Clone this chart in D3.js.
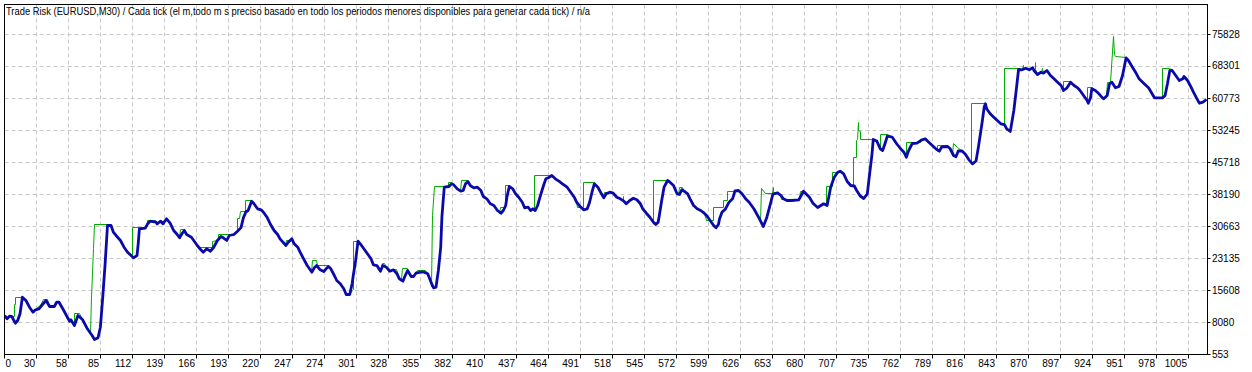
<!DOCTYPE html>
<html>
<head>
<meta charset="utf-8">
<script src="https://cdn.jsdelivr.net/npm/d3@7"></script>
<style>
  body { margin: 0; background: #fff; }
  svg { display: block; }
  text { font-family: "Liberation Sans", Arial, sans-serif; font-size: 10px; fill: #000; }
</style>
</head>
<body>
<div id="chart"></div>
<script>
const title = 'Trade Risk (EURUSD,M30) / Cada tick (el m,todo m s preciso basado en todo los periodos menores disponibles para generar cada tick)  / n/a';

const xLabels = [0, 30, 58, 85, 112, 139, 166, 193, 220, 247, 274, 301, 328, 355, 382, 410, 437, 464, 491, 518,
  545, 572, 599, 626, 653, 680, 707, 735, 762, 789, 816, 843, 870, 897, 924, 951, 978, 1005];
const yTicks = [553, 8080, 15608, 23135, 30663, 38190, 45718, 53245, 60773, 68301, 75828];

// blue line [trade index, value]
const balance = [
  [3, 9727], [5, 8950], [7, 9562], [9, 9491], [12, 7915], [14, 8550], [16, 10126], [18, 14031], [21, 13255],
  [24, 11679], [27, 10503], [29, 11067], [32, 11303], [35, 12314], [38, 13255], [41, 11844], [45, 11844],
  [47, 12855], [49, 12855], [53, 10903], [56, 9327], [58, 8386], [59, 8715], [62, 7374], [65, 9727], [69, 8715],
  [73, 6598], [77, 5022], [79, 4081], [82, 4481], [84, 6974], [86, 14031], [88, 21888], [90, 30897], [93, 30897],
  [95, 29321], [98, 28310], [101, 27369], [104, 25793], [107, 24617], [110, 23840], [112, 23299], [115, 23840],
  [116, 26593], [117, 30121], [122, 30262], [124, 31297], [126, 31909], [131, 31673], [132, 31297], [135, 31909],
  [137, 31297], [140, 32473], [143, 31438], [146, 29721], [149, 28780], [151, 28004], [153, 28945], [155, 29721],
  [157, 28780], [161, 28145], [163, 27369], [166, 26193], [169, 25181], [171, 24617], [174, 25416], [177, 24852],
  [180, 25793], [183, 27369], [186, 28310], [188, 28004], [191, 27369], [193, 28545], [197, 28780], [200, 29555],
  [203, 30400], [205, 32700], [207, 34026], [209, 34426], [212, 36613], [214, 36002], [217, 34826], [220, 34590],
  [222, 34026], [225, 32850], [228, 31132], [231, 29721], [234, 28780], [236, 27769], [241, 26193], [243, 26969],
  [246, 27769], [248, 26593], [251, 25793], [253, 24617], [256, 23064], [259, 21488], [263, 19912], [265, 20947],
  [267, 21488], [270, 20476], [273, 20077], [275, 20712], [277, 21253], [279, 20712], [282, 19136], [284, 17960],
  [287, 17183], [290, 16007], [292, 14666], [295, 14666], [297, 17183], [298, 19136], [300, 22664], [302, 27204],
  [305, 26193], [308, 25016], [310, 24240], [313, 23064], [315, 21653], [318, 21488], [321, 20147], [323, 21488],
  [326, 21088], [329, 20147], [332, 20476], [335, 19536], [337, 18359], [340, 17795], [342, 19136], [344, 20312],
  [347, 18901], [349, 18901], [351, 19677], [355, 19912], [358, 19912], [361, 19536], [363, 18124], [365, 16783],
  [366, 16242], [368, 16384], [370, 20312], [372, 25793], [373, 32850], [375, 39907], [379, 40071], [381, 40706],
  [383, 40471], [386, 39530], [389, 38965], [391, 39130], [393, 40706], [395, 41247], [397, 40306], [400, 39765],
  [403, 39907], [406, 39130], [408, 37719], [411, 37178], [414, 36002], [417, 35602], [420, 34426], [423, 33790],
  [425, 34426], [427, 35602], [428, 37554], [430, 40071], [433, 39530], [435, 38495], [438, 37554], [441, 36378],
  [443, 35061], [446, 35202], [448, 34426], [450, 34826], [452, 34426], [454, 35602], [456, 37554], [459, 40306],
  [461, 41882], [463, 42118], [466, 42659], [469, 41882], [472, 41318], [475, 40706], [479, 39907], [482, 38731],
  [485, 37554], [487, 36378], [490, 35367], [493, 34590], [496, 34826], [498, 36378], [500, 38731], [502, 40706],
  [505, 39907], [508, 38354], [510, 37413], [512, 38354], [515, 38731], [518, 38495], [521, 37554], [524, 37178],
  [527, 36613], [529, 36002], [532, 36778], [535, 37319], [538, 36943], [541, 36002], [543, 34826], [546, 33790],
  [549, 32850], [552, 31673], [554, 31132], [556, 31673], [557, 33250], [559, 36778], [561, 39907], [564, 41483],
  [566, 41083], [569, 40306], [572, 38354], [574, 38189], [576, 39295], [578, 38965], [581, 38354], [583, 37178],
  [586, 35602], [589, 34826], [592, 34426], [595, 33790], [597, 33250], [600, 32073], [603, 30897], [605, 30356],
  [607, 31132], [608, 32473], [610, 34000], [613, 34800], [616, 36378], [619, 37178], [621, 39013], [624, 39130],
  [627, 38354], [630, 37178], [633, 36378], [637, 34826], [641, 32850], [645, 30662], [648, 32850], [651, 36002],
  [653, 38189], [654, 38354], [657, 38589], [660, 37954], [662, 37178], [665, 36778], [669, 36778], [675, 36943],
  [679, 38965], [684, 37554], [687, 36143], [691, 35131], [693, 35484], [696, 36002], [699, 35602], [702, 39907],
  [705, 42259], [708, 43435], [710, 43670], [713, 43059], [716, 41247], [719, 40306], [722, 40189], [724, 39130],
  [727, 37837], [730, 37249], [733, 38354], [735, 43130], [737, 47763], [738, 51126], [741, 50775], [744, 48940],
  [746, 48539], [748, 50186], [750, 51951], [754, 51715], [758, 50069], [761, 49010], [764, 48140], [766, 46963],
  [768, 48539], [771, 50186], [775, 50257], [779, 51009], [782, 51292], [785, 50492], [788, 49716], [791, 48940],
  [794, 48375], [796, 49410], [801, 49480], [803, 49010], [806, 47363], [808, 47057], [810, 48422], [813, 48469],
  [816, 47669], [819, 46352], [822, 45411], [825, 46069], [827, 49316], [830, 54820], [832, 58890], [833, 59525],
  [834, 58349], [837, 57172], [840, 56373], [843, 55596], [846, 54820], [849, 54655], [851, 53644], [854, 53009],
  [857, 57949], [859, 62653], [861, 67593], [864, 67523], [867, 67899], [870, 67523], [873, 67993], [874, 67358],
  [877, 66417], [880, 66958], [882, 66723], [885, 67358], [888, 66182], [891, 65405], [894, 64606], [897, 63829],
  [899, 62653], [902, 63288], [905, 64606], [908, 63829], [911, 63288], [913, 62653], [916, 61477], [919, 60301],
  [920, 59666], [922, 61077], [923, 63053], [926, 62653], [929, 61877], [932, 60936], [933, 60701], [936, 61477],
  [938, 64229], [940, 64606], [943, 63288], [946, 63594], [949, 66182], [952, 70345], [954, 69710], [957, 68299],
  [960, 66958], [963, 65405], [966, 64606], [968, 64065], [971, 63288], [974, 61877], [976, 60936], [980, 60936],
  [983, 60936], [985, 61477], [987, 64229], [989, 67358], [991, 67358], [994, 66182], [997, 65006], [1000, 65405],
  [1001, 65947], [1004, 65006], [1007, 63430], [1009, 62253], [1012, 60701], [1014, 59666], [1017, 59901],
  [1020, 60536]
];

// green line [trade index, value]
const equity = [
  [3, 9727], [5, 8950], [7, 9562], [9, 9491], [11, 9491], [11, 12314], [12.4, 12314], [12.4, 14031], [18, 14031],
  [21, 13255], [24, 11679], [27, 10503], [29, 11067], [30, 11415], [33, 12050], [36, 13391], [39, 13391],
  [41, 11844], [45, 11844], [47, 12855], [49, 12855], [53, 10903], [56, 9327], [58, 8386], [59, 8715], [62, 7374],
  [62.3, 10126], [66.6, 10126], [69, 8715], [73, 6598], [76, 5492], [76.5, 14000], [78, 25400], [79.3, 31060],
  [90, 31060], [93, 30897], [95, 29321], [98, 28310], [101, 27369], [104, 25793], [107, 24617], [110, 23840],
  [111.4, 23500], [111.5, 30356], [118, 30356], [122, 30262], [124, 31297], [124.2, 32000], [131, 32000],
  [132, 31297], [135, 31909], [137, 31297], [140, 32473], [143, 31438], [146, 29721], [149, 28780], [151, 28004],
  [151.8, 29886], [155, 29886], [157, 28780], [161, 28145], [163, 27369], [166, 26193], [168, 25793], [179, 25793],
  [179.2, 27204], [183, 27369], [184, 27500], [184.2, 28700], [197, 28700], [200, 29555], [200.3, 32473],
  [202, 32473], [202.2, 34260], [207, 34260], [207.2, 36778], [212, 36778], [214, 36002], [217, 34826],
  [220, 34590], [222, 34026], [225, 32850], [228, 31132], [231, 29721], [234, 28780], [236, 27769], [241, 26193],
  [241.2, 27369], [246, 27369], [248, 26593], [251, 25793], [253, 24617], [256, 23064], [259, 21488], [263, 19912],
  [263.2, 22664], [267, 22664], [268, 21488], [277, 21488], [279, 20712], [282, 19136], [284, 17960], [287, 17183],
  [290, 16007], [292, 14666], [295, 14666], [297, 15500], [298.4, 15900], [298.5, 27204], [302, 27204],
  [305, 26193], [308, 25016], [310, 24240], [313, 23064], [315, 21653], [318, 21488], [321, 20147], [322.5, 21888],
  [324.5, 21888], [326, 21088], [329, 20147], [331, 20476], [335, 20476], [337, 18359], [339, 18100],
  [339.4, 20712], [343.6, 20712], [344, 20312], [347, 18901], [349, 18901], [351, 19677], [352, 20312],
  [359, 20312], [361, 19536], [363, 18124], [364.5, 16500], [365, 33250], [366.5, 40071], [378.8, 40071],
  [379, 41083], [381, 41083], [383, 40471], [386, 39530], [389, 38965], [389.3, 41483], [394.5, 41483],
  [395, 41247], [397, 40306], [400, 39765], [403, 39907], [406, 39130], [408, 37719], [411, 37178], [414, 36002],
  [417, 35602], [420, 34426], [422, 33790], [422.3, 35061], [427, 35061], [427.2, 40306], [430, 40306],
  [433, 39530], [435, 38495], [438, 37554], [441, 36378], [443, 35061], [446, 35202], [448, 34426], [450, 34826],
  [451, 34426], [451.3, 42659], [466, 42659], [469, 41882], [472, 41318], [475, 40706], [479, 39907], [482, 38731],
  [485, 37554], [487, 36378], [487.5, 35061], [493, 35061], [493.2, 40942], [502, 40942], [505, 39907],
  [508, 38354], [510, 37413], [510.2, 38731], [517, 38731], [518, 38495], [521, 37554], [524, 37178],
  [526.5, 36800], [526.7, 37700], [527, 36613], [529, 36002], [532, 36778], [535, 37319], [538, 36943],
  [541, 36002], [543, 34826], [546, 33790], [549, 32850], [552, 31673], [552.3, 41483], [564, 41483],
  [566, 41083], [569, 40306], [572, 38354], [573.5, 38189], [573.7, 39765], [576.5, 39765], [578, 38965],
  [581, 38354], [583, 37178], [586, 35602], [589, 34826], [592, 34426], [595, 33790], [597, 32073], [603, 32073],
  [603.2, 35202], [611.3, 35202], [611.5, 36778], [615, 36778], [615.1, 38965], [621, 38965], [624, 39130],
  [627, 38354], [630, 37178], [633, 36378], [637, 34826], [641, 32850], [643, 31900], [643.2, 39530],
  [646.8, 38354], [653, 38354], [653.2, 39907], [653.6, 38589], [657, 38589], [659.5, 37954], [660, 36943],
  [676, 36943], [676.2, 38965], [679.3, 38965], [684, 37554], [687, 36143], [691, 35131], [693, 35484],
  [696, 36002], [698.5, 36002], [698.6, 40071], [703.2, 40071], [703.3, 43435], [709, 43435], [710, 43670],
  [713, 43059], [716, 41247], [719, 40306], [721.3, 40189], [721.5, 46963], [723.5, 46963], [723.6, 50892],
  [725, 51200], [725.3, 55055], [725.8, 53244], [727, 53000], [727.2, 51057], [737, 51057], [738, 51126],
  [741, 50775], [744, 49100], [744.1, 52302], [750, 52302], [754, 51715], [758, 50069], [761, 49010], [764, 48140],
  [766, 46963], [766.1, 50492], [778, 50492], [778.1, 51057], [782, 51292], [785, 50492], [788, 49716],
  [791, 48940], [792.5, 48375], [792.6, 49716], [800.6, 49716], [801, 49480], [803, 49010], [805.5, 47600],
  [806, 50257], [809.5, 49175], [813, 48469], [816, 47669], [819, 46352], [820.8, 45400], [821, 59525],
  [833, 59525], [834, 58349], [837, 57172], [840, 56373], [842, 55900], [848.5, 54420], [849.3, 54420],
  [849.5, 67758], [861, 67758], [864, 67523], [865.3, 68534], [865.5, 67700], [867, 67899], [870, 67523],
  [873, 67993], [875, 67358], [875.2, 69310], [875.5, 67500], [877, 66417], [880, 66958], [881, 67758],
  [882, 66723], [885, 67358], [888, 66182], [891, 65405], [894, 64606], [897, 63829], [899, 62800],
  [899.2, 64771], [905, 64771], [908, 63829], [911, 63288], [913, 62653], [916, 61477], [919, 60301],
  [919.1, 63288], [923.3, 63288], [926, 62653], [929, 61877], [932, 60936], [934, 60936], [935.5, 61500],
  [936, 64606], [938.5, 64606], [941.5, 75356], [942, 71200], [943, 70651], [952, 70500], [954, 69710],
  [957, 68299], [960, 66958], [963, 65405], [966, 64606], [968, 64065], [971, 63288], [974, 61877], [976, 60936],
  [980, 60936], [982.5, 60936], [982.7, 67758], [989, 67758], [991, 67358], [994, 66182], [997, 65006],
  [1000, 65405], [1001, 65947], [1004, 65006], [1007, 63430], [1009, 62253], [1012, 60701], [1014, 59666],
  [1017, 59901], [1020, 60536]
];

const width = 1252;
const height = 372;
const frame = { left: 4.5, right: 1207.5, top: 4.5, bottom: 354.5 };

// x grid: one line every 27.08 trades, starting at trade 2.85 on the left border
const xGridStart = 2.85;
const xGridStep = 27.08;

const x = d3.scaleLinear()
  .domain([xGridStart, xGridStart + (frame.right - frame.left) * xGridStep / 32])
  .range([frame.left, frame.right]);

const y = d3.scaleLinear()
  .domain([yTicks[0], yTicks[yTicks.length - 1]])
  .range([frame.bottom, 34.5]);

const snap = v => Math.round(v - 0.5) + 0.5;

const svg = d3.select('#chart')
  .append('svg')
  .attr('width', width)
  .attr('height', height);

svg.append('rect')
  .attr('width', width)
  .attr('height', height)
  .attr('fill', '#fff');

const xGrid = xLabels.map((label, j) => x(xGridStart + j * xGridStep));

// dashed grid
svg.append('g')
  .selectAll('line')
  .data(xGrid.slice(1))
  .join('line')
  .attr('x1', d => snap(d))
  .attr('x2', d => snap(d))
  .attr('y1', frame.top)
  .attr('y2', frame.bottom)
  .attr('stroke', '#c8c8c8')
  .attr('stroke-dasharray', '4,3');

svg.append('g')
  .selectAll('line')
  .data(yTicks.slice(1))
  .join('line')
  .attr('x1', frame.left)
  .attr('x2', frame.right)
  .attr('y1', d => snap(y(d)))
  .attr('y2', d => snap(y(d)))
  .attr('stroke', '#c8c8c8')
  .attr('stroke-dasharray', '4,3');

// series
svg.append('clipPath')
  .attr('id', 'plot-clip')
  .append('rect')
  .attr('x', frame.left)
  .attr('y', frame.top)
  .attr('width', frame.right - frame.left)
  .attr('height', frame.bottom - frame.top);

const line = d3.line()
  .x(d => x(d[0]))
  .y(d => y(d[1]));

// thin green line snapped to pixel centres so its steps stay sharp
const pixelLine = d3.line()
  .x(d => snap(x(d[0])))
  .y(d => snap(y(d[1])));

svg.append('path')
  .datum(equity)
  .attr('clip-path', 'url(#plot-clip)')
  .attr('fill', 'none')
  .attr('stroke', '#00aa00')
  .attr('stroke-width', 1)
  .attr('d', pixelLine);

svg.append('path')
  .datum(balance)
  .attr('clip-path', 'url(#plot-clip)')
  .attr('fill', 'none')
  .attr('stroke', '#0a0aaa')
  .attr('stroke-width', 2.8)
  .attr('stroke-linejoin', 'round')
  .attr('d', line);

// frame
svg.append('rect')
  .attr('x', frame.left)
  .attr('y', frame.top)
  .attr('width', frame.right - frame.left)
  .attr('height', frame.bottom - frame.top)
  .attr('fill', 'none')
  .attr('stroke', '#000');

// x axis ticks and labels
const xAxis = svg.append('g');
xAxis.selectAll('line')
  .data(xGrid)
  .join('line')
  .attr('x1', d => snap(d))
  .attr('x2', d => snap(d))
  .attr('y1', frame.bottom)
  .attr('y2', frame.bottom + 4)
  .attr('stroke', '#000');

xAxis.selectAll('text')
  .data(xLabels)
  .join('text')
  .attr('x', (d, j) => (j === 0 ? xGrid[j] + 1 : xGrid[j] - 1.5))
  .attr('y', 367)
  .attr('text-anchor', (d, j) => (j === 0 ? 'start' : 'end'))
  .text(d => d);

// y axis ticks and labels
const yAxis = svg.append('g');
yAxis.selectAll('line')
  .data(yTicks)
  .join('line')
  .attr('x1', frame.right)
  .attr('x2', frame.right + 3)
  .attr('y1', d => snap(y(d)))
  .attr('y2', d => snap(y(d)))
  .attr('stroke', '#000');

yAxis.selectAll('text')
  .data(yTicks)
  .join('text')
  .attr('x', frame.right + 4.5)
  .attr('y', d => y(d) + 3)
  .text(d => d);

// title
svg.append('text')
  .attr('x', 6)
  .attr('y', 15)
  .attr('textLength', 584)
  .attr('lengthAdjust', 'spacingAndGlyphs')
  .text(title);
</script>
</body>
</html>
